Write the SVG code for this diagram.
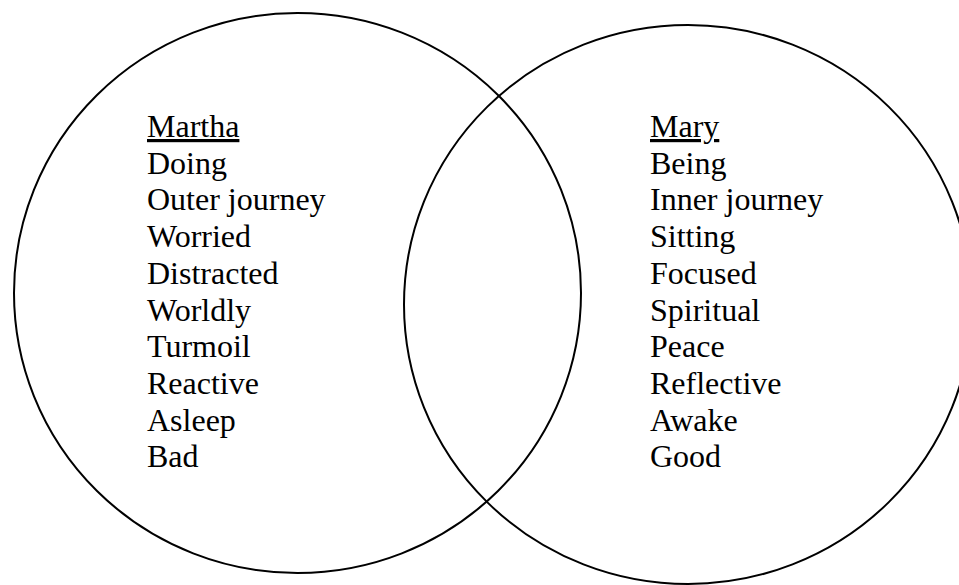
<svg xmlns="http://www.w3.org/2000/svg" width="959" height="585" viewBox="0 0 959 585">
<style>
.c{fill:none;stroke:#000;stroke-width:2}
.t{font-family:"Liberation Serif","Times New Roman",serif;font-size:32px;fill:#000}
</style>
<rect width="959" height="585" fill="#fff"/>
<g id="martha">
<ellipse class="c" cx="297.5" cy="293" rx="283.5" ry="280"/>
<text class="t" x="147" y="137"><tspan text-decoration="underline">Martha</tspan><tspan x="147" dy="36.7">Doing</tspan><tspan x="147" dy="36.7">Outer journey</tspan><tspan x="147" dy="36.7">Worried</tspan><tspan x="147" dy="36.7">Distracted</tspan><tspan x="147" dy="36.7">Worldly</tspan><tspan x="147" dy="36.7">Turmoil</tspan><tspan x="147" dy="36.7">Reactive</tspan><tspan x="147" dy="36.7">Asleep</tspan><tspan x="147" dy="36.7">Bad</tspan></text>
</g>
<g id="mary">
<ellipse class="c" cx="688" cy="304.5" rx="284" ry="279.5"/>
<text class="t" x="650" y="137"><tspan text-decoration="underline">Mary</tspan><tspan x="650" dy="36.7">Being</tspan><tspan x="650" dy="36.7">Inner journey</tspan><tspan x="650" dy="36.7">Sitting</tspan><tspan x="650" dy="36.7">Focused</tspan><tspan x="650" dy="36.7">Spiritual</tspan><tspan x="650" dy="36.7">Peace</tspan><tspan x="650" dy="36.7">Reflective</tspan><tspan x="650" dy="36.7">Awake</tspan><tspan x="650" dy="36.7">Good</tspan></text>
</g>
<g id="connectors"/>
</svg>
